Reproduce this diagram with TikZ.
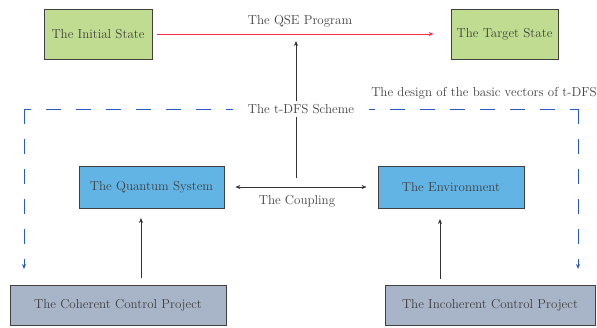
\documentclass[tikz,border=0pt]{standalone}
\usetikzlibrary{arrows.meta}
\definecolor{boxgreen}{RGB}{192,220,144}
\definecolor{boxblue}{RGB}{98,180,228}
\definecolor{boxgray}{RGB}{168,180,200}
\definecolor{redline}{RGB}{240,48,72}
\definecolor{dashblue}{RGB}{40,90,200}
\definecolor{txt}{RGB}{64,64,64}
\begin{document}
\begin{tikzpicture}[x=1pt,y=-1pt,
  box/.style={draw=black!75,line width=0.8pt,inner sep=0pt,font=\fontsize{13}{15}\selectfont,text=txt},
  lbl/.style={inner sep=1pt,font=\fontsize{13}{15}\selectfont,text=txt},
  tip/.style={-{Stealth[length=5pt,width=4pt]}},
  dashln/.style={color=dashblue,line width=0.9pt,dash pattern=on 15pt off 15pt}]
\useasboundingbox (0,0) rectangle (597,327);
\node[box,fill=boxgreen,minimum width=108pt,minimum height=50pt] (init) at (98,34) {The Initial State};
\node[box,fill=boxgreen,minimum width=107pt,minimum height=50pt] (target) at (504.5,34) {The Target State};
\node[box,fill=boxblue,minimum width=145pt,minimum height=42pt] (qs) at (151.5,187) {The Quantum System};
\node[box,fill=boxblue,minimum width=146pt,minimum height=42pt] (env) at (451,187) {The Environment};
\node[box,fill=boxgray,minimum width=216pt,minimum height=40pt] (coh) at (118,305) {The Coherent Control Project};
\node[box,fill=boxgray,minimum width=210pt,minimum height=40pt] (inc) at (490,305) {The Incoherent Control Project};
\node[lbl] (qse) at (300,21) {The QSE Program};
\node[lbl] (tdfs) at (301,109) {The t-DFS Scheme};
\node[lbl] (coupling) at (297,201) {The Coupling};
\node[lbl] (design) at (484,93) {The design of the basic vectors of t-DFS};
\coordinate (qseup) at (296,41);
\coordinate (cpl) at (296,178);
\coordinate (tl) at (24,109);
\coordinate (bl) at (24,269);
\coordinate (tr) at (578,109);
\coordinate (br) at (578,269);
\coordinate (lend) at (233,109);
\coordinate (rend) at (369,109);
\coordinate (qsin) at (141,218);
\coordinate (envin) at (440,219);
% red program arrow
\draw[redline,line width=0.9pt,tip,shorten <=5pt,shorten >=17pt] (init.east) -- (target.west);
% t-DFS arrows
\draw[black!80,line width=0.8pt,tip] (qseup |- tdfs.north) ++(0,-2) -- (qseup);
\draw[black!80,line width=0.8pt] (cpl |- tdfs.south) ++(0,2) -- (cpl);
% coupling
\draw[black!80,line width=0.8pt,{Stealth[length=5pt,width=4pt]}-{Stealth[length=5pt,width=4pt]},shorten <=11pt,shorten >=11pt] (qs.east) -- (env.west);
% control arrows
\draw[black!80,line width=0.8pt,tip] (qsin |- coh.north) ++(0,-7) -- (qsin);
\draw[black!80,line width=0.8pt,tip] (envin |- inc.north) ++(0,-6) -- (envin);
% dashed design lines
\draw[dashln,dash phase=8pt] (tl) -- (lend);
\draw[dashln,tip] (tl) -- (bl);
\draw[dashln,dash phase=7pt] (tr) -- (rend);
\draw[dashln,tip] (tr) -- (br);
\end{tikzpicture}
\end{document}
